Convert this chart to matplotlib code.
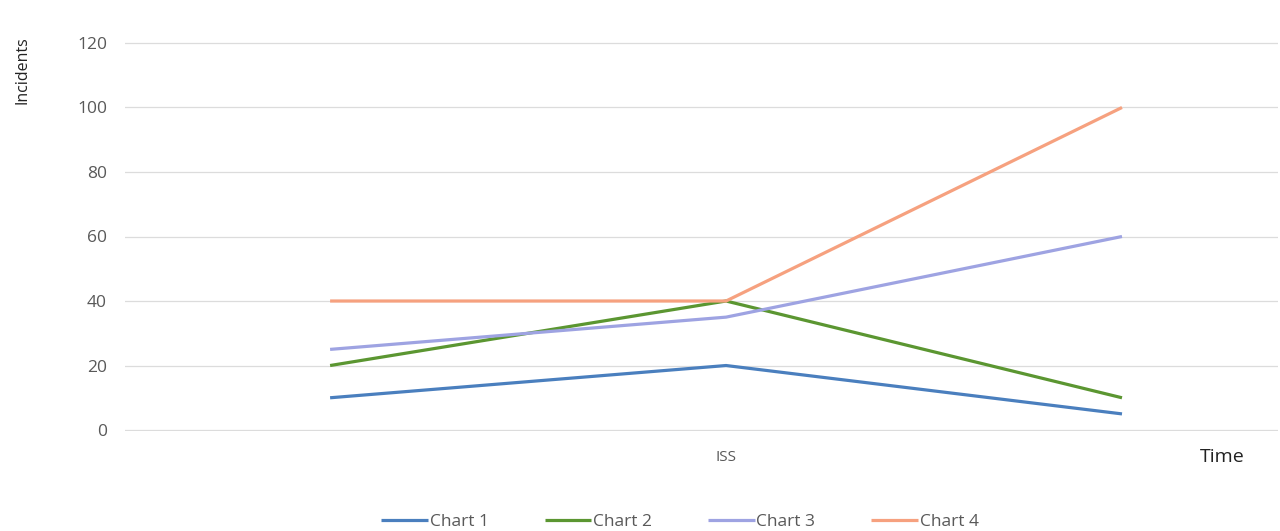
#!/usr/bin/env python3
import matplotlib
matplotlib.use("Agg")
import matplotlib.pyplot as plt

OUT_PATH = "out.png"

categories = ["", "ISS", ""]
series_names = ["Chart 1", "Chart 2", "Chart 3", "Chart 4"]
chart1 = [10, 20, 5]
chart2 = [20, 40, 10]
chart3 = [25, 35, 60]
chart4 = [40, 40, 100]
y_ticks = [0, 20, 40, 60, 80, 100, 120]

colors = ["#4a7fbe", "#5b9631", "#9ea3e2", "#f6a17f"]


def main():
    plt.rcParams["font.family"] = ["Open Sans", "DejaVu Sans"]

    fig = plt.figure(figsize=(12.8, 5.31), dpi=100)
    ax = fig.add_axes([125 / 1280, 100 / 531, 1153 / 1280, 389 / 531])

    x = list(range(len(categories)))
    for name, vals, c in zip(series_names, [chart1, chart2, chart3, chart4], colors):
        ax.plot(x, vals, color=c, linewidth=2.3, label=name, solid_capstyle="butt")

    ax.set_xlim(-0.518, 2.394)
    ax.set_ylim(-0.3, 120.3)
    ax.set_yticks(y_ticks)
    ax.set_xticks(x)
    ax.set_xticklabels(categories)
    ax.tick_params(axis="y", length=0, pad=13, labelsize=12.5, labelcolor="#595959")
    ax.tick_params(axis="x", length=0, pad=14, labelsize=11, labelcolor="#595959")
    ax.grid(axis="y", color="#dcdcdc", linewidth=0.9)
    ax.set_axisbelow(True)
    for s in ax.spines.values():
        s.set_visible(False)

    fig.text(22 / 1280, 1 - 70 / 531, "Incidents", rotation=90,
             ha="center", va="center", fontsize=11.5, color="#222222")
    fig.text(1222 / 1280, 1 - 457 / 531, "Time",
             ha="center", va="center", fontsize=14, color="#222222")

    fig.legend(loc="center", bbox_to_anchor=(680 / 1280, 1 - 522 / 531), ncol=4,
               frameon=False, fontsize=12.5, handlelength=2.7, handletextpad=0.1,
               columnspacing=3.2, labelcolor="#595959")

    fig.savefig(OUT_PATH, dpi=100)
    plt.close(fig)


if __name__ == "__main__":
    main()
